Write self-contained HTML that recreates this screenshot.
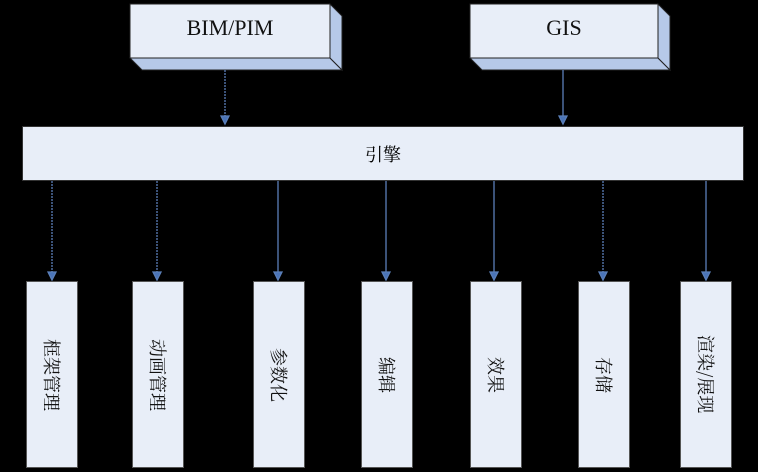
<!DOCTYPE html>
<html><head><meta charset="utf-8"><style>
body{margin:0;width:758px;height:472px;background:#000;position:relative;overflow:hidden;font-family:"Liberation Serif","Noto Serif CJK SC",serif}
.b{position:absolute;background:#e8eef8;border:1px solid #333;box-sizing:border-box}
.v{position:absolute;top:281px;width:52px;height:187px;background:#e8eef8;box-sizing:border-box;border:1px solid #555;writing-mode:vertical-rl;text-orientation:sideways;display:flex;align-items:center;justify-content:center;font-size:18px;color:#111;font-family:"Noto Serif CJK SC",serif}
.lbl{position:absolute;font-size:22px;color:#111;text-align:center}
</style></head><body>
<svg width="758" height="472" style="position:absolute;left:0;top:0">
<g stroke="#222" stroke-width="1">
<polygon points="130,58 330,58 330,4 130,4" fill="#e8eef8"/>
<polygon points="130,58 330,58 342,70 142,70" fill="#b6c9e8"/>
<polygon points="330,4 342,16 342,70 330,58" fill="#b6c9e8"/>
<polygon points="470,58 658,58 658,4 470,4" fill="#e8eef8"/>
<polygon points="470,58 658,58 670,70 482,70" fill="#b6c9e8"/>
<polygon points="658,4 670,16 670,70 658,58" fill="#b6c9e8"/>
</g>
<g stroke="#5b7fb8" stroke-width="1.3" fill="#4a74b8">
<line x1="225" y1="70" x2="225" y2="118" stroke-dasharray="2,1"/><polygon points="221,116 229,116 225,124"/>
<line x1="563" y1="70" x2="563" y2="118"/><polygon points="559,116 567,116 563,124"/>
<line x1="52" y1="181" x2="52" y2="273" stroke-dasharray="2,1"/><polygon points="48,272 56,272 52,280"/>
<line x1="157" y1="181" x2="157" y2="273" stroke-dasharray="2,1"/><polygon points="153,272 161,272 157,280"/>
<line x1="278" y1="181" x2="278" y2="273"/><polygon points="274,272 282,272 278,280"/>
<line x1="386" y1="181" x2="386" y2="273"/><polygon points="382,272 390,272 386,280"/>
<line x1="494" y1="181" x2="494" y2="273"/><polygon points="490,272 498,272 494,280"/>
<line x1="603" y1="181" x2="603" y2="273" stroke-dasharray="2,1"/><polygon points="599,272 607,272 603,280"/>
<line x1="706" y1="181" x2="706" y2="273"/><polygon points="702,272 710,272 706,280"/>
</g>
</svg>
<div class="lbl" style="left:130px;top:15px;width:200px">BIM/PIM</div>
<div class="lbl" style="left:470px;top:15px;width:188px">GIS</div>
<div class="b" style="left:22px;top:126px;width:722px;height:55px;display:flex;align-items:center;justify-content:center;font-size:18px">引擎</div>
<div class="v" style="left:26px">框架管理</div>
<div class="v" style="left:132px">动画管理</div>
<div class="v" style="left:253px">参数化</div>
<div class="v" style="left:361px">编辑</div>
<div class="v" style="left:470px">效果</div>
<div class="v" style="left:578px">存储</div>
<div class="v" style="left:680px">渲染/展现</div>
</body></html>
